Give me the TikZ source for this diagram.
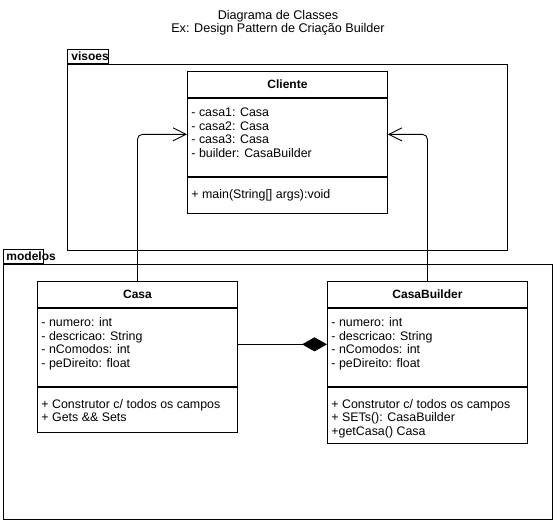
\documentclass[tikz,border=0pt]{standalone}
\usepackage{fontspec}
\setmainfont{Liberation Sans}
\usetikzlibrary{arrows.meta, positioning}

\tikzset{
  classhead/.style={draw, minimum width=200pt, minimum height=26pt, inner sep=0pt, font=\fontsize{12}{14}\selectfont\bfseries},
  classpart/.style={draw, minimum width=200pt, inner sep=0pt},
  members/.style={anchor=north west, align=left, inner sep=0pt, font=\fontsize{12.4}{13.5}\selectfont},
  pkgbody/.style={draw, anchor=north west, inner sep=0pt},
  pkgtab/.style={draw, anchor=south west, inner ysep=0pt, minimum height=14pt, align=left, font=\fontsize{12}{14}\selectfont\bfseries},
  assoc/.style={-{Straight Barb[length=13pt,width=13pt]}, rounded corners=5pt},
  compo/.style={-{Diamond[length=25pt,width=14pt]}}
}

\begin{document}
\begin{tikzpicture}[x=1pt, y=-1pt, line width=0.9pt]
  \useasboundingbox (0,0) rectangle (553,521);

  % Title
  \node[anchor=north, align=center, inner sep=0pt, font=\fontsize{12.6}{13}\selectfont] (title) at (278,10.2)
    {Diagrama de Classes\\Ex: Design Pattern de Criação Builder};

  % Packages
  \node[pkgbody, minimum width=440pt, minimum height=186pt] (visoesbody) at (67,64) {};
  \node[pkgtab, text width=33pt, inner xsep=4pt] (visoestab) at (visoesbody.north west) {visoes};
  \node[pkgbody, minimum width=549pt, minimum height=255pt] (modelosbody) at (3,264) {};
  \node[pkgtab, text width=34pt, inner xsep=3pt] (modelostab) at (modelosbody.north west) {modelos};

  % Cliente
  \node[classhead, anchor=north west] (clihead) at (187,71) {Cliente};
  \node[classpart, minimum height=78pt, below=0pt of clihead] (cliattr) {};
  \node[classpart, minimum height=36pt, below=0pt of cliattr] (climeth) {};
  \node[members] (cliattrtxt) at ([xshift=4pt, yshift=-9.5pt]cliattr.north west)
    {- casa1: Casa\\- casa2: Casa\\- casa3: Casa\\- builder: CasaBuilder};
  \node[members] (climethtxt) at ([xshift=4pt, yshift=-11.8pt]climeth.north west)
    {+ main(String[] args):void};

  % Casa
  \node[classhead, anchor=north west] (casahead) at (37,281) {Casa};
  \node[classpart, minimum height=78pt, below=0pt of casahead] (casaattr) {};
  \node[classpart, minimum height=45pt, below=0pt of casaattr] (casameth) {};
  \node[members] (casaattrtxt) at ([xshift=4pt, yshift=-9.5pt]casaattr.north west)
    {- numero: int\\- descricao: String\\- nComodos: int\\- peDireito: float};
  \node[members] (casamethtxt) at ([xshift=4pt, yshift=-11.8pt]casameth.north west)
    {+ Construtor c/ todos os campos\\+ Gets \&\& Sets};

  % CasaBuilder
  \node[classhead, anchor=north west] (bldhead) at (327,281) {CasaBuilder};
  \node[classpart, minimum height=78pt, below=0pt of bldhead] (bldattr) {};
  \node[classpart, minimum height=56pt, below=0pt of bldattr] (bldmeth) {};
  \node[members] (bldattrtxt) at ([xshift=4pt, yshift=-9.5pt]bldattr.north west)
    {- numero: int\\- descricao: String\\- nComodos: int\\- peDireito: float};
  \node[members] (bldmethtxt) at ([xshift=4pt, yshift=-11.8pt]bldmeth.north west)
    {+ Construtor c/ todos os campos\\+ SETs(): CasaBuilder\\+getCasa() Casa};

  % Connectors
  \coordinate (cliinl) at ([yshift=3pt]cliattr.west);
  \coordinate (cliinr) at ([yshift=3pt]cliattr.east);
  \draw[assoc] (casahead.north) |- (cliinl);
  \draw[assoc] (bldhead.north) |- (cliinr);
  \draw[compo] ([yshift=3pt]casaattr.east) -- ([yshift=3pt]bldattr.west);
\end{tikzpicture}
\end{document}
